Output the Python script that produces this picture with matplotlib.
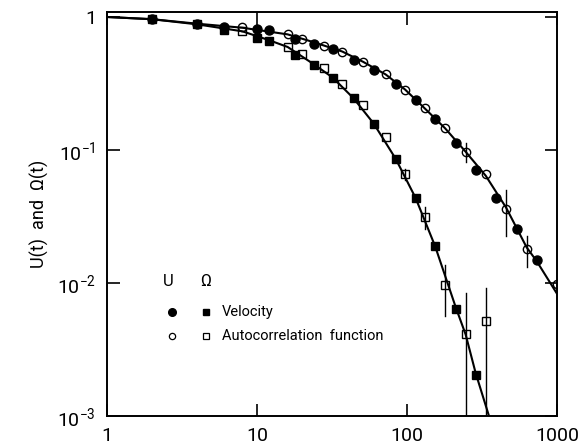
import numpy as np
import matplotlib
matplotlib.use("Agg")
import matplotlib.pyplot as plt
from matplotlib.ticker import FixedLocator, FixedFormatter, NullLocator

# ---------------- data ----------------
# U(t): velocity (filled circles)
u_vel_t = [2, 4, 6, 10, 12, 18, 24, 32, 44, 60, 84, 114, 154, 211, 287, 392, 539, 732]
u_vel_v = [0.963, 0.879, 0.846, 0.815, 0.796, 0.686, 0.625, 0.570, 0.478, 0.397,
           0.316, 0.238, 0.170, 0.112, 0.0711, 0.0436, 0.0255, 0.0148]
# U(t): autocorrelation (open circles)
u_ac_t = [8, 16, 20, 28, 37, 51, 72, 97, 131, 179, 246, 335, 457, 628, 1000]
u_ac_v = [0.835, 0.739, 0.686, 0.609, 0.549, 0.458, 0.372, 0.283, 0.208, 0.147,
          0.0962, 0.0656, 0.0361, 0.0180, 0.0099]
u_ac_lo = [None] * 10 + [0.0815, None, 0.0225, 0.0131, None]
u_ac_hi = [None] * 10 + [0.112, None, 0.050, 0.0224, None]

# Omega(t): velocity (filled squares)
w_vel_t = [2, 4, 6, 10, 12, 18, 24, 32, 44, 60, 84, 114, 154, 211, 287]
w_vel_v = [0.963, 0.879, 0.800, 0.694, 0.665, 0.519, 0.438, 0.345, 0.245, 0.158,
           0.0853, 0.0434, 0.0189, 0.00638, 0.00204]
# Omega(t): autocorrelation (open squares)
w_ac_t = [8, 16, 20, 28, 37, 51, 72, 97, 131, 179, 246, 335]
w_ac_v = [0.785, 0.595, 0.525, 0.416, 0.315, 0.217, 0.126, 0.0661, 0.0312,
          0.0097, 0.00417, 0.00521]
w_ac_lo = [None] * 7 + [0.0593, 0.0255, 0.0056, 0.0005, 0.0005]
w_ac_hi = [None] * 7 + [0.0723, 0.0372, 0.0136, 0.00834, 0.00918]

# fitted curves
u_fit_t = [1, 2, 4, 8, 16, 24, 37, 51, 72, 97, 131, 179, 246, 335, 457, 628, 732, 1000]
u_fit_v = [1.0, 0.962, 0.89, 0.83, 0.74, 0.645, 0.55, 0.46, 0.37, 0.285, 0.206,
           0.146, 0.097, 0.064, 0.0370, 0.0185, 0.0146, 0.0083]
w_fit_t = [1, 2, 4, 8, 12, 16, 24, 32, 44, 60, 84, 114, 154, 211, 246, 287, 352]
w_fit_v = [1.0, 0.962, 0.88, 0.78, 0.67, 0.595, 0.44, 0.35, 0.245, 0.158, 0.086,
           0.0437, 0.0189, 0.0066, 0.0041, 0.0021, 0.001]

x_ticks = [1, 10, 100, 1000]
x_labels = ["1", "10", "100", "1000"]
y_ticks = [1e-3, 1e-2, 1e-1, 1]
y_labels = [r"$10^{-3}$", r"$10^{-2}$", r"$10^{-1}$", "1"]

# ---------------- style ----------------
plt.rcParams['font.family'] = ['Roboto', 'DejaVu Sans']
plt.rcParams['mathtext.fontset'] = 'custom'
plt.rcParams['mathtext.rm'] = 'Roboto'
plt.rcParams['mathtext.it'] = 'Roboto'
plt.rcParams['mathtext.default'] = 'rm'

fig = plt.figure(figsize=(5.87, 4.47), dpi=100)
ax = fig.add_axes([107/587, 31/447, 450/587, 404/447])
ax.set_xscale('log')
ax.set_yscale('log')
ax.set_xlim(1, 1000)
ax.set_ylim(1e-3, 1.09)

lc = 'black'
ax.plot(u_fit_t, u_fit_v, color=lc, lw=1.5, zorder=2)
ax.plot(w_fit_t, w_fit_v, color=lc, lw=1.5, zorder=2)

def errbars(t, lo, hi):
    for ti, l, h in zip(t, lo, hi):
        if l is not None:
            ax.plot([ti, ti], [l, h], color=lc, lw=1.0, zorder=2)

errbars(u_ac_t, u_ac_lo, u_ac_hi)
errbars(w_ac_t, w_ac_lo, w_ac_hi)

ax.plot(w_vel_t, w_vel_v, ls='none', marker='s', ms=6.0, mfc=lc, mec=lc, zorder=3)
ax.plot(u_vel_t, u_vel_v, ls='none', marker='o', ms=6.5, mfc=lc, mec=lc, zorder=3)
ax.plot(u_ac_t, u_ac_v, ls='none', marker='o', ms=6.0, mfc='none', mec=lc, mew=1.0, zorder=4)
ax.plot(w_ac_t, w_ac_v, ls='none', marker='s', ms=5.5, mfc='none', mec=lc, mew=1.0, zorder=4)

# axes styling
for s in ax.spines.values():
    s.set_linewidth(1.4)
ax.xaxis.set_major_locator(FixedLocator(x_ticks))
ax.xaxis.set_major_formatter(FixedFormatter(x_labels))
ax.yaxis.set_major_locator(FixedLocator(y_ticks))
ax.yaxis.set_major_formatter(FixedFormatter(y_labels))
ax.xaxis.set_minor_locator(NullLocator())
ax.yaxis.set_minor_locator(NullLocator())
ax.tick_params(which='major', direction='in', top=True, right=True,
               length=9, width=1.2, labelsize=14, pad=8)
ax.set_ylabel("U(t)  and  \u03a9(t)", fontsize=13, labelpad=6)

# legend
tr = ax.transAxes
ax.text(0.136, 0.334, "U", transform=tr, fontsize=12, va='center', ha='center')
ax.text(0.219, 0.334, "\u03a9", transform=tr, fontsize=12, va='center', ha='center')
ax.plot([0.1444], [0.257], transform=tr, marker='o', ms=5.5, mfc=lc, mec=lc, clip_on=False)
ax.plot([0.2193], [0.257], transform=tr, marker='s', ms=5.0, mfc=lc, mec=lc, clip_on=False)
ax.plot([0.1444], [0.198], transform=tr, marker='o', ms=4.5, mfc='none', mec=lc, mew=0.9, clip_on=False)
ax.plot([0.2193], [0.198], transform=tr, marker='s', ms=4.5, mfc='none', mec=lc, mew=0.9, clip_on=False)
ax.text(0.256, 0.257, "Velocity", transform=tr, fontsize=10.5, va='center', ha='left')
ax.text(0.256, 0.198, "Autocorrelation  function", transform=tr, fontsize=10.5, va='center', ha='left')

fig.savefig("out.png", dpi=100)
